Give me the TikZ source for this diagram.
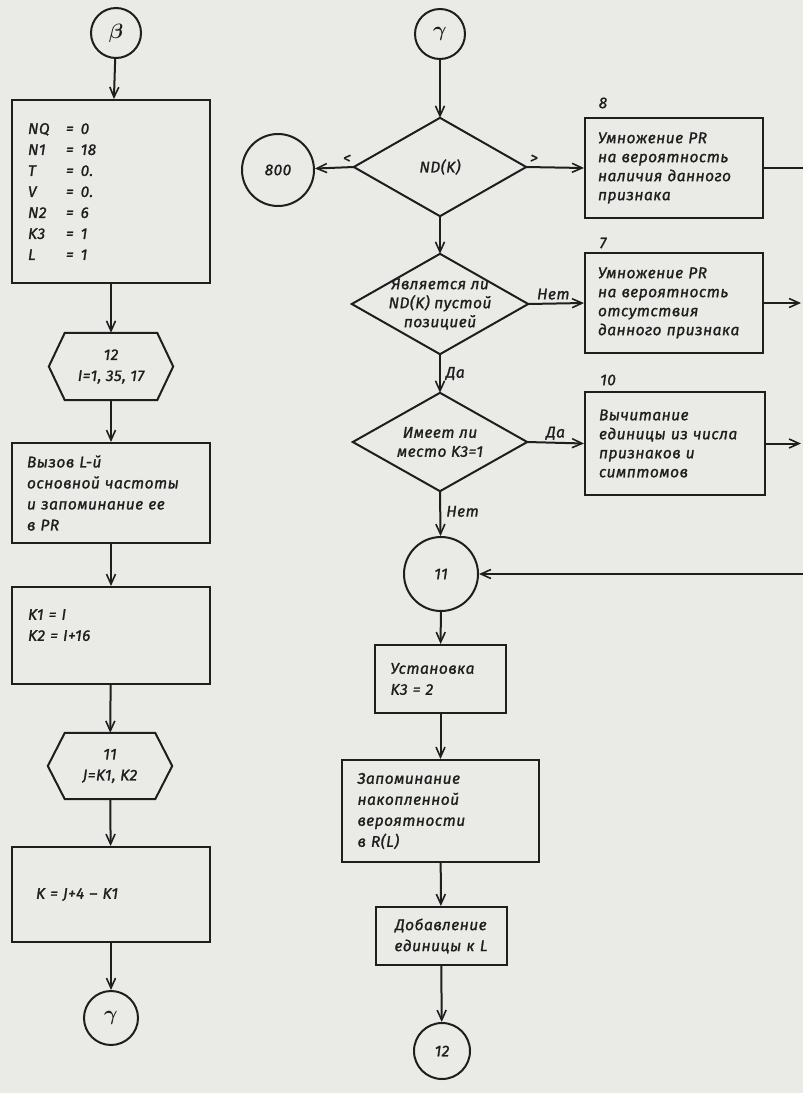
\documentclass[tikz,border=0pt]{standalone}
\usepackage{fontspec}
\setmainfont{Fira Sans}[ItalicFeatures={FakeBold=1.2}, LetterSpace=3]
\usetikzlibrary{arrows.meta}
\definecolor{paper}{RGB}{234,234,231}
\definecolor{ink}{RGB}{30,30,30}
\begin{document}
\begin{tikzpicture}[x=1pt,y=-1pt,
  every node/.style={font=\itshape\fontsize{15.5}{21}\selectfont, text=ink},
  line/.style={draw=ink, line width=2pt, line join=miter},
  arr/.style={draw=ink, line width=2pt, -{Straight Barb[length=10pt,width=9pt,line width=1.6pt]}},
  box/.style={draw=ink, line width=2pt, rectangle, inner sep=0pt, align=left},
  conn/.style={draw=ink, line width=2pt, circle, inner sep=0pt},
  core/.style={inner sep=0pt, align=center},
  tight/.style={font=\itshape\fontsize{15.5}{19}\selectfont},
  greek/.style={font=\fontsize{22}{22}\selectfont\boldmath},
  lbl/.style={inner sep=1pt}
]
\fill[paper] (0,0) rectangle (803,1093);
\useasboundingbox (0,0) rectangle (803,1093);

% ---------- left column ----------
\node[conn, greek, minimum size=50pt] (beta) at (116,33) {$\beta$};
\node[box, minimum width=198pt, minimum height=183pt, text width=166pt] (init) at (111,191.5)
  {\makebox[38pt][l]{NQ}=\hspace{7pt}0\\
   \makebox[38pt][l]{N1}=\hspace{7pt}18\\
   \makebox[38pt][l]{T}=\hspace{7pt}0.\\
   \makebox[38pt][l]{V}=\hspace{7pt}0.\\
   \makebox[38pt][l]{N2}=\hspace{7pt}6\\
   \makebox[38pt][l]{K3}=\hspace{7pt}1\\
   \makebox[38pt][l]{L}=\hspace{7pt}1};
\node[core, minimum width=92pt, minimum height=67pt] (loopI) at (111,366.5) {12\\I=1, 35, 17};
\draw[line] (loopI.north west) -- (loopI.north east) -- ([xshift=16pt]loopI.east)
  -- (loopI.south east) -- (loopI.south west) -- ([xshift=-16pt]loopI.west) -- cycle;
\node[box, minimum width=198pt, minimum height=100pt, text width=168pt] (call) at (111,493)
  {Вызов L-й\\основной частоты\\и запоминание ее\\в PR};
\node[box, minimum width=198pt, minimum height=97pt, text width=166pt] (kset) at (111,635.5)
  {K1 = I\\K2 = I+16\\\mbox{}};
\node[core, minimum width=90pt, minimum height=66pt] (loopJ) at (110,766) {11\\J=K1, K2};
\draw[line] (loopJ.north west) -- (loopJ.north east) -- ([xshift=17pt]loopJ.east)
  -- (loopJ.south east) -- (loopJ.south west) -- ([xshift=-17pt]loopJ.west) -- cycle;
\node[box, minimum width=198pt, minimum height=95pt, text width=150pt] (kcalc) at (111,894.5)
  {K = J+4 -- K1};
\node[conn, greek, minimum size=54pt] (gammaL) at (111,1018) {$\gamma$};

\draw[arr] (beta) -- (init);
\draw[arr] (init) -- (loopI);
\draw[arr] (loopI) -- (call);
\draw[arr] (call) -- (kset);
\draw[arr] (kset) -- (loopJ);
\draw[arr] (loopJ) -- (kcalc);
\draw[arr] (kcalc) -- (gammaL);

% ---------- middle column ----------
\node[conn, greek, minimum size=50pt] (gammaM) at (440,34) {$\gamma$};
\node[core, minimum width=172pt, minimum height=98pt] (nd) at (440,167) {ND(K)};
\draw[line] (nd.north) -- (nd.east) -- (nd.south) -- (nd.west) -- cycle;
\node[conn, minimum size=72pt] (c800) at (278,170) {800};
\node[core, tight, minimum width=176pt, minimum height=100pt] (empty) at (440,304)
  {Является ли\\ND(K) пустой\\позицией};
\draw[line] (empty.north) -- (empty.east) -- (empty.south) -- (empty.west) -- cycle;
\node[core, tight, minimum width=174pt, minimum height=98pt] (kthree) at (440,442)
  {Имеет ли\\место K3=1};
\draw[line] (kthree.north) -- (kthree.east) -- (kthree.south) -- (kthree.west) -- cycle;
\node[conn, minimum size=74pt] (c11) at (441,574) {11};
\node[box, minimum width=131pt, minimum height=68pt, text width=100pt] (setk) at (440.5,679)
  {Установка\\K3 = 2};
\node[box, minimum width=197pt, minimum height=102pt, text width=166pt] (store) at (440.5,811)
  {Запоминание\\накопленной\\вероятности\\в R(L)};
\node[box, align=center, minimum width=131pt, minimum height=58pt, text width=124pt] (addL) at (441,936)
  {Добавление\\единицы к L};
\node[conn, minimum size=56pt] (c12) at (442,1051) {12};

\draw[arr] (gammaM) -- (nd.north);
\draw[arr] (nd.west) -- (c800);
\node[lbl] at (347,159) {<};
\node[lbl] at (534,159) {>};
\draw[arr] (nd.south) -- (empty.north);
\draw[arr] (empty.south) -- node[lbl, right=4pt] {Да} (kthree.north);
\draw[arr] (kthree.south) -- node[lbl, right=4pt, pos=0.45] {Нет} (c11);
\draw[arr] (c11) -- (setk);
\draw[arr] (setk) -- (store);
\draw[arr] (store) -- (addL);
\draw[arr] (addL) -- (c12);

% ---------- right column ----------
\node[box, tight, minimum width=178pt, minimum height=100pt, text width=152pt] (pres) at (674,168)
  {Умножение PR\\на вероятность\\наличия данного\\признака};
\node[box, tight, minimum width=178pt, minimum height=100pt, text width=152pt] (abs) at (674,303)
  {Умножение PR\\на вероятность\\отсутствия\\данного признака};
\node[box, tight, minimum width=180pt, minimum height=103pt, text width=152pt] (sub) at (675,443.5)
  {Вычитание\\единицы из числа\\признаков и\\симптомов};
\node[lbl] (n8) at (603,103) {8};
\node[lbl] (n7) at (603,243) {7};
\node[lbl] (n10) at (608,380) {10};

\draw[arr] (nd.east) -- (pres.west);
\draw[arr] (empty.east) -- node[lbl, above=2pt, pos=0.45] {Нет} (abs.west);
\draw[arr] (kthree.east) -- node[lbl, above=1pt, pos=0.5] {Да} (sub.west);

\coordinate (outA) at (803,168);
\coordinate (outB) at (801,303);
\coordinate (outC) at (801,443.5);
\coordinate (back) at (803,574);
\draw[line] (pres.east) -- (outA);
\draw[arr] (abs.east) -- (outB);
\draw[arr] (sub.east) -- (outC);
\draw[arr] (back) -- (c11.east);
\end{tikzpicture}
\end{document}
